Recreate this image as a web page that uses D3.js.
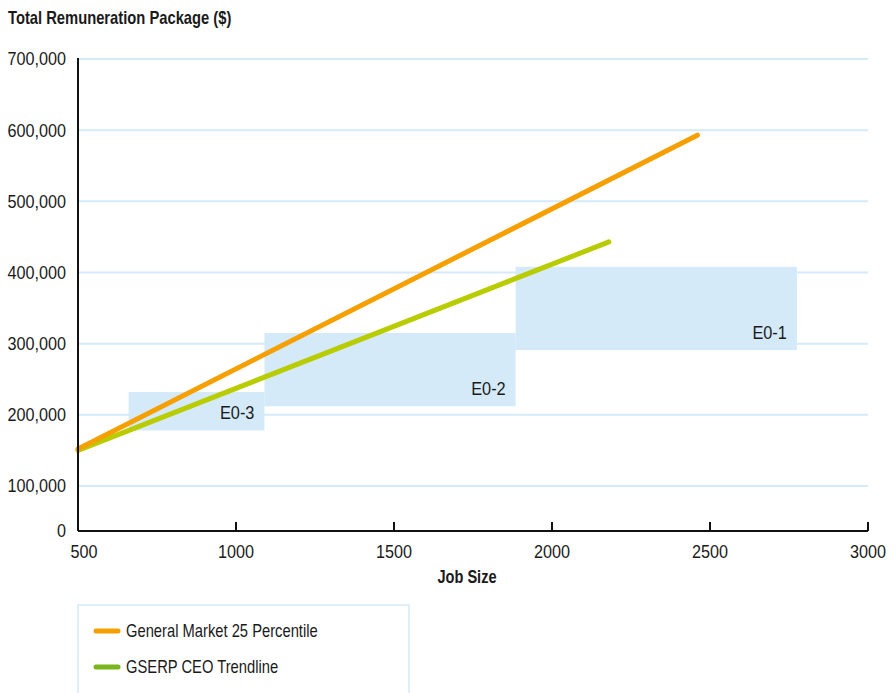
<!DOCTYPE html>
<html>
<head>
<meta charset="utf-8">
<script src="https://cdn.jsdelivr.net/npm/d3@7"></script>
<style>
  body { margin: 0; background: #fff; }
  svg text { font-family: "Liberation Sans", Arial, sans-serif; fill: #1a1a1a; }
</style>
</head>
<body>
<svg id="chart" width="895" height="693"></svg>
<script>
// Job-size bands (x range) with their remuneration range (y range)
const bandNames = ["E0-3", "E0-2", "E0-1"];
const bandJobFrom = [660, 1090, 1885];
const bandJobTo = [1090, 1885, 2775];
const bandPayLow = [178000, 212000, 291000];
const bandPayHigh = [232000, 315000, 408000];

// Trendlines: job size vs total remuneration
const seriesNames = ["General Market 25 Percentile", "GSERP CEO Trendline"];
const marketJob = [500, 2460];
const marketPay = [152000, 593000];
const gserpJob = [500, 2180];
const gserpPay = [150000, 443000];

const xTicks = [500, 1000, 1500, 2000, 2500, 3000];
const yTicks = [0, 100000, 200000, 300000, 400000, 500000, 600000, 700000];

const lineColors = ["#f5a000", "#b8cc00"];
const legendColors = ["#f5a000", "#7ab51d"];

const svg = d3.select("#chart");

// condensed text: regular face squeezed horizontally
function label(parent, px, py, txt, opt = {}) {
  const t = parent.append("text")
    .attr("transform", `translate(${px},${py}) scale(${opt.sx || 0.82},1)`)
    .attr("text-anchor", opt.anchor || "start")
    .attr("font-size", opt.size || 18)
    .text(txt);
  if (opt.bold) t.attr("font-weight", "bold");
  if (opt.dy) t.attr("dy", opt.dy);
  return t;
}

const x = d3.scaleLinear().domain([500, 3000]).range([78, 868]);
// the lowest step (0 to 100,000) is drawn compressed
const y = d3.scaleLinear().domain([0, 100000, 700000]).range([531, 486, 59]);

// gridlines
svg.append("g")
  .selectAll("line")
  .data(yTicks.filter(d => d > 0))
  .join("line")
  .attr("x1", x(500)).attr("x2", x(3000))
  .attr("y1", d => y(d)).attr("y2", d => y(d))
  .attr("stroke", "#d5eaf8").attr("stroke-width", 2);

// bands
const bands = bandNames.map((n, i) => ({ name: n, x0: bandJobFrom[i], x1: bandJobTo[i], lo: bandPayLow[i], hi: bandPayHigh[i] }));
svg.append("g")
  .selectAll("rect")
  .data(bands)
  .join("rect")
  .attr("x", d => x(d.x0)).attr("width", d => x(d.x1) - x(d.x0))
  .attr("y", d => y(d.hi)).attr("height", d => y(d.lo) - y(d.hi))
  .attr("fill", "#d4eaf8");

const bandLabels = svg.append("g");
bands.forEach(d => label(bandLabels, x(d.x1) - 10, y(d.lo) - 11, d.name, { anchor: "end", size: 19, sx: 0.86 }));

// trendlines
const line = d3.line().x(d => x(d[0])).y(d => y(d[1]));
const series = [
  d3.zip(marketJob, marketPay),
  d3.zip(gserpJob, gserpPay)
];
// green drawn first, orange on top
[1, 0].forEach(i => {
  svg.append("path")
    .datum(series[i])
    .attr("d", line)
    .attr("fill", "none")
    .attr("stroke", lineColors[i])
    .attr("stroke-width", 5)
    .attr("stroke-linecap", "round");
});

// x axis
const xAxis = svg.append("g").attr("transform", `translate(0,${y(0)})`);
xAxis.append("line")
  .attr("x1", x(500)).attr("x2", x(3000))
  .attr("stroke", "#111").attr("stroke-width", 2);
xAxis.selectAll(".tick")
  .data(xTicks.filter(d => d > 500))
  .join("line")
  .attr("x1", d => x(d)).attr("x2", d => x(d))
  .attr("y1", 0).attr("y2", -9)
  .attr("stroke", "#111").attr("stroke-width", 2);
xTicks.forEach(d => label(xAxis, x(d) + (d === 500 ? 6 : 0), 27, d, { anchor: "middle", sx: 0.9 }));

label(svg, 467, 583, "Job Size", { anchor: "middle", bold: true, sx: 0.81 });

// y axis
svg.append("line")
  .attr("x1", x(500)).attr("x2", x(500))
  .attr("y1", y(700000) - 1).attr("y2", y(0))
  .attr("stroke", "#111").attr("stroke-width", 2);
const yAxis = svg.append("g");
yTicks.forEach(d => label(yAxis, 66, y(d), d3.format(",")(d), { anchor: "end", sx: 0.9, dy: "0.36em" }));

label(svg, 8, 24, "Total Remuneration Package ($)", { bold: true, sx: 0.82 });

// legend
const legend = svg.append("g");
legend.append("rect")
  .attr("x", 78).attr("y", 605)
  .attr("width", 331).attr("height", 100)
  .attr("fill", "#fff").attr("stroke", "#d5eaf8").attr("stroke-width", 1.5);
seriesNames.forEach((name, i) => {
  const ly = 631 + i * 36;
  legend.append("line")
    .attr("x1", 96).attr("x2", 118)
    .attr("y1", ly).attr("y2", ly)
    .attr("stroke", legendColors[i]).attr("stroke-width", 5)
    .attr("stroke-linecap", "round");
  label(legend, 126, ly, name, { dy: "0.36em", sx: 0.82 });
});
</script>
</body>
</html>
